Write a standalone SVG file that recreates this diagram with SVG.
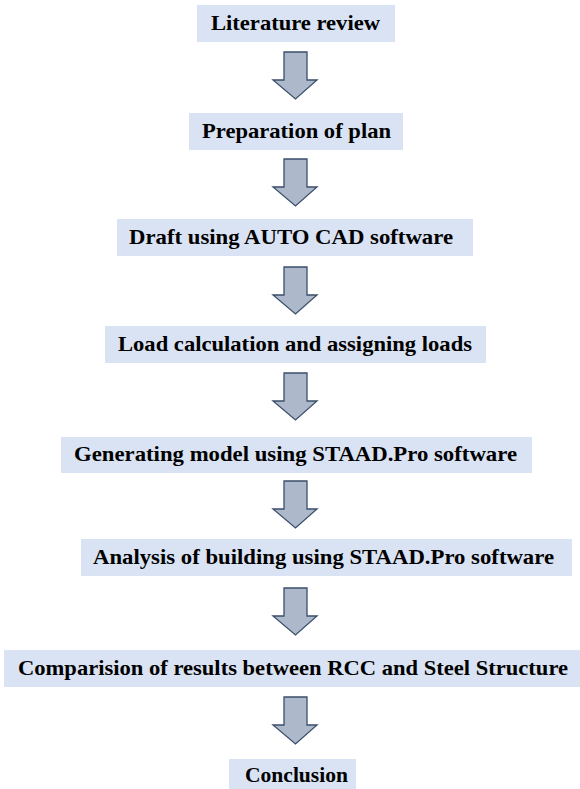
<svg xmlns="http://www.w3.org/2000/svg" width="580" height="789" viewBox="0 0 580 789">
<style>
.box{fill:#DAE3F3;}
.t{font-family:"Liberation Serif","Times New Roman",serif;font-weight:bold;font-size:22px;fill:#000;}
.arr{fill:#ADB9CA;stroke:#3B4E6B;stroke-width:1.3;stroke-linejoin:miter;}
</style>
<defs>
<path id="a" d="M284,0 H307 V28 H317 L295.5,47 L273,28 H284 Z"/>
</defs>
<g id="n1"><rect class="box" x="197" y="5" width="198" height="37"/><text class="t" x="211" y="29.5" textLength="169" lengthAdjust="spacingAndGlyphs">Literature review</text></g>
<g id="n2"><rect class="box" x="189" y="113" width="214" height="37"/><text class="t" x="202" y="137.5" textLength="189" lengthAdjust="spacingAndGlyphs">Preparation of plan</text></g>
<g id="n3"><rect class="box" x="117" y="219" width="356" height="37"/><text class="t" x="129" y="243.5" textLength="324" lengthAdjust="spacingAndGlyphs">Draft using AUTO CAD software</text></g>
<g id="n4"><rect class="box" x="105" y="326" width="381" height="37"/><text class="t" x="118" y="350.5" textLength="354" lengthAdjust="spacingAndGlyphs">Load calculation and assigning loads</text></g>
<g id="n5"><rect class="box" x="61" y="437" width="471" height="36"/><text class="t" x="74" y="460.5" textLength="443" lengthAdjust="spacingAndGlyphs">Generating model using STAAD.Pro software</text></g>
<g id="n6"><rect class="box" x="81" y="539" width="491" height="37"/><text class="t" x="93" y="563.5" textLength="461" lengthAdjust="spacingAndGlyphs">Analysis of building using STAAD.Pro software</text></g>
<g id="n7"><rect class="box" x="4" y="650" width="576" height="37"/><text class="t" x="18" y="674.5" textLength="550" lengthAdjust="spacingAndGlyphs">Comparision of results between RCC and Steel Structure</text></g>
<g id="n8"><rect class="box" x="229" y="759" width="127" height="32"/><text class="t" x="245" y="781.5" textLength="103" lengthAdjust="spacingAndGlyphs">Conclusion</text></g>
<g id="connectors">
<use href="#a" class="arr" y="52"/>
<use href="#a" class="arr" y="159"/>
<use href="#a" class="arr" y="267"/>
<use href="#a" class="arr" y="373"/>
<use href="#a" class="arr" y="481"/>
<use href="#a" class="arr" y="588"/>
<use href="#a" class="arr" y="697"/>
</g>
</svg>
